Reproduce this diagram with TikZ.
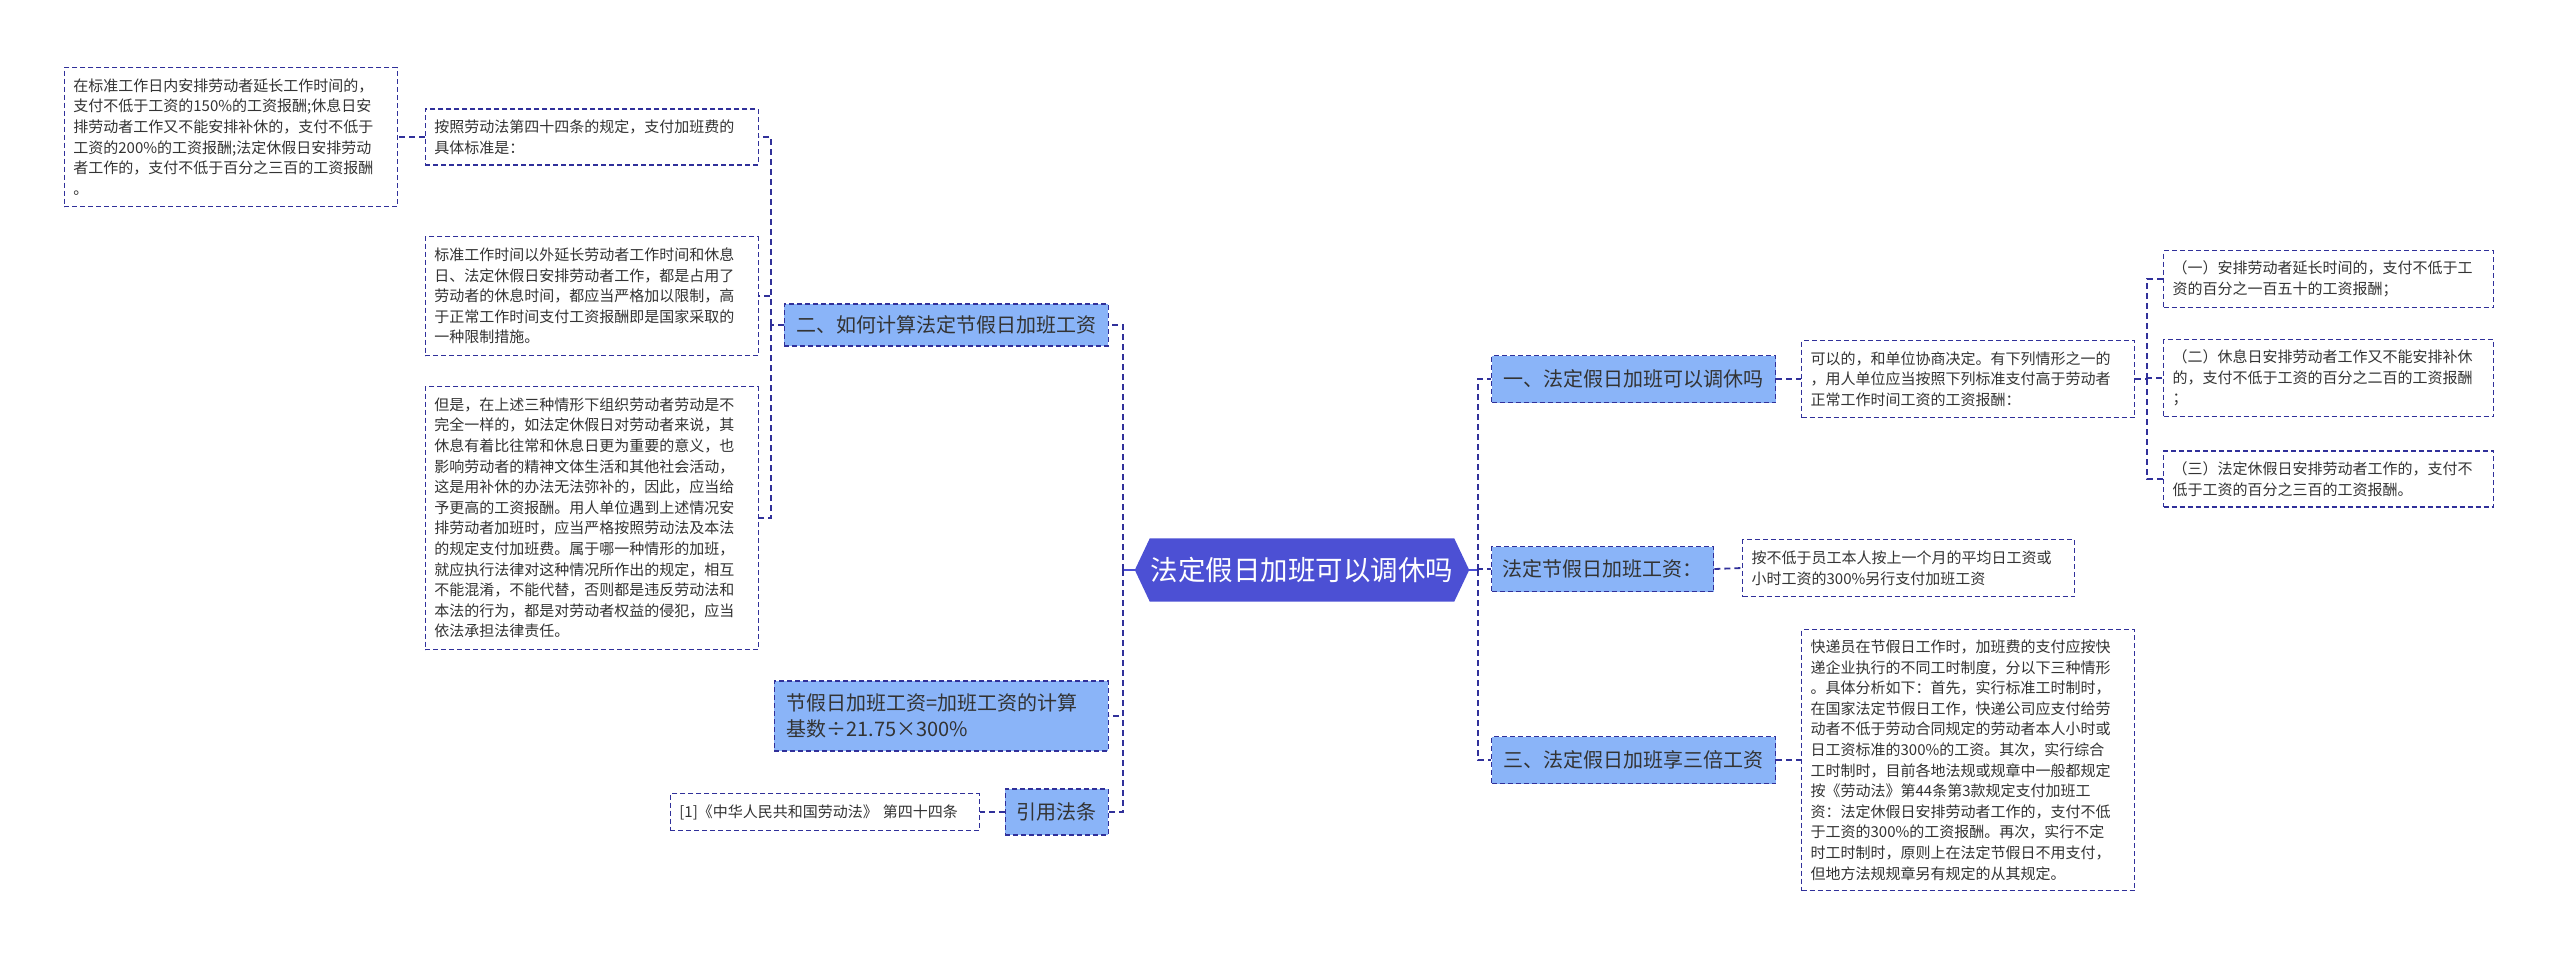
\documentclass[tikz,border=0pt]{standalone}
\usepackage{fontspec}
\setmainfont{Noto Sans CJK SC}
\usepackage{xcolor}
\usepackage{tikz}
\usetikzlibrary{backgrounds}
\definecolor{TextGray}{HTML}{333333}
\definecolor{TopicIndigo}{HTML}{4C50D4}
\definecolor{BranchSky}{HTML}{8AB4F8}
\definecolor{LinkNavy}{HTML}{30309A}
\newcommand\leaffont{\fontsize{15}{20.6}\selectfont}
\newcommand\branchfont{\fontsize{20}{26}\selectfont}
\newcommand\topicfont{\fontsize{27.5}{33}\selectfont}

\begin{document}
\begin{tikzpicture}[x=1pt,y=-1pt]
  \path[use as bounding box] (0,0) rectangle (2560,956);

  \tikzset{
    jbTopic/.style={
      text=white,
      font=\topicfont,
      minimum width=304pt,
      minimum height=63pt,
      inner sep=0pt
    },
    jbBranch/.style={
      draw=LinkNavy,
      fill=BranchSky,
      dash pattern=on 5pt off 3pt,
      line width=1.4pt,
      text=TextGray,
      font=\branchfont,
      inner xsep=11pt,
      inner ysep=4pt
    },
    jbLeaf/.style={
      draw=LinkNavy,
      fill=white,
      dash pattern=on 5pt off 3pt,
      line width=1.3pt,
      text=TextGray,
      font=\leaffont,
      align=left,
      text width=315pt,
      inner xsep=9pt,
      inner ysep=4pt
    },
    jbLink/.style={
      draw=LinkNavy,
      line width=1.8pt,
      dash pattern=on 6pt off 4pt
    },
    jbStub/.style={
      draw=TopicIndigo,
      line width=2.6pt
    }
  }

  % centre
  \node[jbTopic] (topic) at (1302,570) {法定假日加班可以调休吗};
  \begin{scope}[on background layer]
    \fill[TopicIndigo] (topic.north west) -- (topic.north east)
      -- ([xshift=15pt]topic.east) -- (topic.south east)
      -- (topic.south west) -- ([xshift=-15pt]topic.west) -- cycle;
  \end{scope}
  \coordinate (ltrunk) at (1123,570);
  \coordinate (rtrunk) at (1478,570);

  % left side
  \node[jbBranch,anchor=east,minimum width=324pt,minimum height=42pt] (calc)
    at (1109,325) {二、如何计算法定节假日加班工资};
  \node[jbBranch,anchor=east,minimum width=334pt,minimum height=70pt,
        align=left,text width=310pt] (formula) at (1109,716)
    {节假日加班工资=加班工资的计算\\基数÷21.75×300\%};
  \node[jbBranch,anchor=east,minimum width=103pt,minimum height=46pt] (cite)
    at (1109,812) {引用法条};
  \node[jbLeaf,anchor=east,text width=291pt,minimum height=37pt] (citeleaf)
    at (980,812) {[1]《中华人民共和国劳动法》 第四十四条};

  \node[jbLeaf,anchor=east,minimum height=56pt] (payrule) at (759,137)
    {按照劳动法第四十四条的规定，支付加班费的\\具体标准是：};
  \node[jbLeaf,anchor=east,minimum height=139pt] (payrate) at (398,137)
    {在标准工作日内安排劳动者延长工作时间的，\\
     支付不低于工资的150\%的工资报酬;休息日安\\
     排劳动者工作又不能安排补休的，支付不低于\\
     工资的200\%的工资报酬;法定休假日安排劳动\\
     者工作的，支付不低于百分之三百的工资报酬\\
     。};
  \node[jbLeaf,anchor=east,minimum height=119pt] (limit) at (759,296)
    {标准工作时间以外延长劳动者工作时间和休息\\
     日、法定休假日安排劳动者工作，都是占用了\\
     劳动者的休息时间，都应当严格加以限制，高\\
     于正常工作时间支付工资报酬即是国家采取的\\
     一种限制措施。};
  \node[jbLeaf,anchor=east,minimum height=263pt] (butcase) at (759,518)
    {但是，在上述三种情形下组织劳动者劳动是不\\
     完全一样的，如法定休假日对劳动者来说，其\\
     休息有着比往常和休息日更为重要的意义，也\\
     影响劳动者的精神文体生活和其他社会活动，\\
     这是用补休的办法无法弥补的，因此，应当给\\
     予更高的工资报酬。用人单位遇到上述情况安\\
     排劳动者加班时，应当严格按照劳动法及本法\\
     的规定支付加班费。属于哪一种情形的加班，\\
     就应执行法律对这种情况所作出的规定，相互\\
     不能混淆，不能代替，否则都是违反劳动法和\\
     本法的行为，都是对劳动者权益的侵犯，应当\\
     依法承担法律责任。};
  \coordinate (calcfork) at (771,325);

  % right side
  \node[jbBranch,anchor=west,minimum width=284pt,minimum height=47pt] (q1)
    at (1491,379) {一、法定假日加班可以调休吗};
  \node[jbBranch,anchor=west,minimum width=220pt,minimum height=45pt] (q2)
    at (1491,569) {法定节假日加班工资：};
  \node[jbBranch,anchor=west,minimum width=284pt,minimum height=47pt] (q3)
    at (1491,760) {三、法定假日加班享三倍工资};

  \node[jbLeaf,anchor=west,minimum height=77pt] (ans1) at (1801,379)
    {可以的，和单位协商决定。有下列情形之一的\\
     ，用人单位应当按照下列标准支付高于劳动者\\
     正常工作时间工资的工资报酬：};
  \node[jbLeaf,anchor=west,text width=314pt,minimum height=57pt] (ans2)
    at (1742,568)
    {按不低于员工本人按上一个月的平均日工资或\\
     小时工资的300\%另行支付加班工资};
  \node[jbLeaf,anchor=west,minimum height=261pt] (ans3) at (1801,760)
    {快递员在节假日工作时，加班费的支付应按快\\
     递企业执行的不同工时制度，分以下三种情形\\
     。具体分析如下：首先，实行标准工时制时，\\
     在国家法定节假日工作，快递公司应支付给劳\\
     动者不低于劳动合同规定的劳动者本人小时或\\
     日工资标准的300\%的工资。其次，实行综合\\
     工时制时，目前各地法规或规章中一般都规定\\
     按《劳动法》第44条第3款规定支付加班工\\
     资：法定休假日安排劳动者工作的，支付不低\\
     于工资的300\%的工资报酬。再次，实行不定\\
     时工时制时，原则上在法定节假日不用支付，\\
     但地方法规规章另有规定的从其规定。};

  \node[jbLeaf,anchor=west,text width=312pt,minimum height=57pt] (item1)
    at (2163,279)
    {（一）安排劳动者延长时间的，支付不低于工\\
     资的百分之一百五十的工资报酬；};
  \node[jbLeaf,anchor=west,text width=312pt,minimum height=77pt] (item2)
    at (2163,378)
    {（二）休息日安排劳动者工作又不能安排补休\\
     的，支付不低于工资的百分之二百的工资报酬\\
     ；};
  \node[jbLeaf,anchor=west,text width=312pt,minimum height=56pt] (item3)
    at (2163,479)
    {（三）法定休假日安排劳动者工作的，支付不\\
     低于工资的百分之三百的工资报酬。};
  \coordinate (ansfork) at (2147,379);

  % connectors
  \draw[jbStub] (topic.west) -- (ltrunk);
  \draw[jbStub] (topic.east) -- (rtrunk);
  \draw[jbLink] (ltrunk) |- (calc.east);
  \draw[jbLink] (ltrunk) |- (formula.east);
  \draw[jbLink] (ltrunk) |- (cite.east);
  \draw[jbLink] (cite.west) -- (citeleaf.east);
  \draw[jbLink] (calc.west) -- (calcfork);
  \draw[jbLink] (calcfork) |- (payrule.east);
  \draw[jbLink] (calcfork) |- (limit.east);
  \draw[jbLink] (calcfork) |- (butcase.east);
  \draw[jbLink] (payrule.west) -- (payrate.east);

  \draw[jbLink] (rtrunk) |- (q1.west);
  \draw[jbLink] (rtrunk) |- (q2.west);
  \draw[jbLink] (rtrunk) |- (q3.west);
  \draw[jbLink] (q1.east) -- (ans1.west);
  \draw[jbLink] (q2.east) -- (ans2.west);
  \draw[jbLink] (q3.east) -- (ans3.west);
  \draw[jbLink] (ans1.east) -- (ansfork);
  \draw[jbLink] (ansfork) |- (item1.west);
  \draw[jbLink] (ansfork) |- (item2.west);
  \draw[jbLink] (ansfork) |- (item3.west);
\end{tikzpicture}
\end{document}
